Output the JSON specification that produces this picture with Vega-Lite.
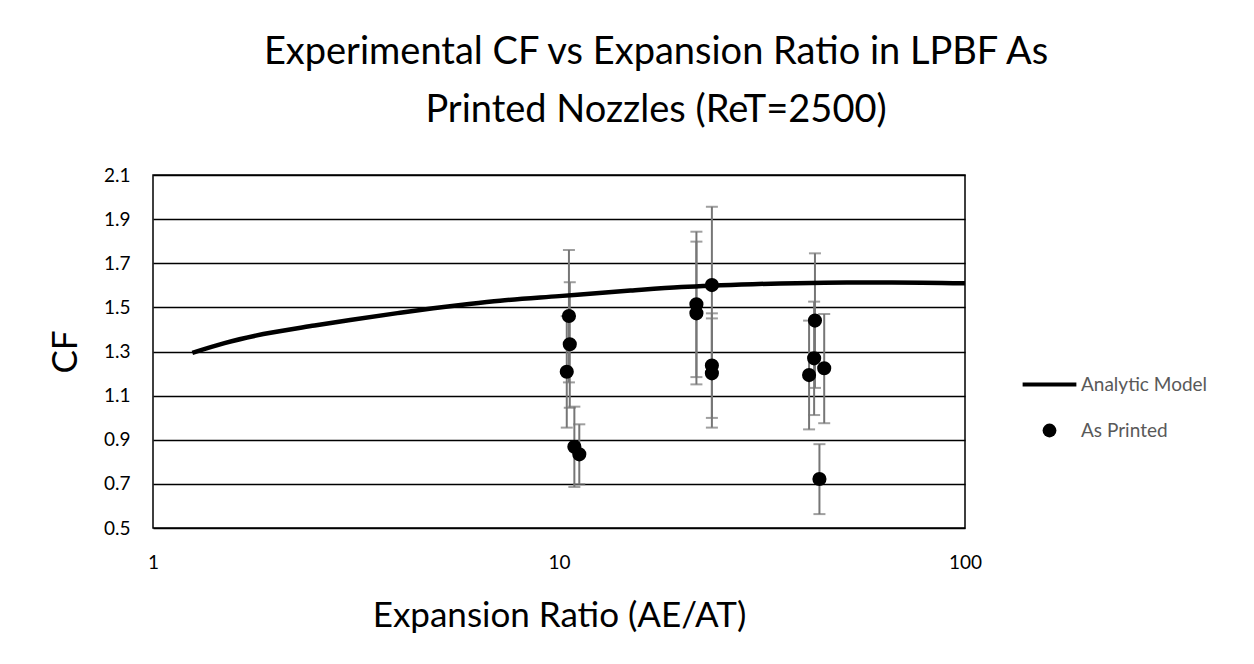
{
  "$schema": "https://vega.github.io/schema/vega-lite/v6.json",
  "width": 812,
  "height": 353,
  "autosize": {"type": "none"},
  "padding": {"left": 153, "top": 175, "right": 289, "bottom": 136},
  "background": "white",
  "config": {
    "font": "Lato",
    "view": {"stroke": "black", "strokeWidth": 1.5}
  },
  "title": {
    "text": ["Experimental CF vs Expansion Ratio in LPBF As", "Printed Nozzles (ReT=2500)"],
    "fontSize": 38,
    "fontWeight": "normal",
    "lineHeight": 58,
    "anchor": "middle",
    "dx": 97,
    "offset": 36,
    "color": "black"
  },
  "datasets": {
    "model": [
      {"er": 1.25, "cf": 1.294},
      {"er": 1.5, "cf": 1.338},
      {"er": 1.87, "cf": 1.379},
      {"er": 2.5, "cf": 1.418},
      {"er": 3.06, "cf": 1.443},
      {"er": 4.0, "cf": 1.474},
      {"er": 4.9, "cf": 1.496},
      {"er": 6.0, "cf": 1.515},
      {"er": 7.16, "cf": 1.530},
      {"er": 10.0, "cf": 1.551},
      {"er": 15.0, "cf": 1.576},
      {"er": 20.0, "cf": 1.592},
      {"er": 30.0, "cf": 1.605},
      {"er": 45.0, "cf": 1.612},
      {"er": 66.0, "cf": 1.613},
      {"er": 100.0, "cf": 1.609}
    ],
    "printed": [
      {"series": "As Printed", "er": 10.58, "cf": 1.461, "lo": 1.160, "hi": 1.760},
      {"series": "As Printed", "er": 10.63, "cf": 1.333, "lo": 1.045, "hi": 1.614},
      {"series": "As Printed", "er": 10.45, "cf": 1.208, "lo": 0.955, "hi": 1.460},
      {"series": "As Printed", "er": 10.91, "cf": 0.868, "lo": 0.686, "hi": 1.050},
      {"series": "As Printed", "er": 11.22, "cf": 0.834, "lo": 0.698, "hi": 0.970},
      {"series": "As Printed", "er": 21.8, "cf": 1.514, "lo": 1.184, "hi": 1.843},
      {"series": "As Printed", "er": 21.8, "cf": 1.473, "lo": 1.151, "hi": 1.798},
      {"series": "As Printed", "er": 23.8, "cf": 1.601, "lo": 1.246, "hi": 1.956},
      {"series": "As Printed", "er": 23.8, "cf": 1.236, "lo": 0.999, "hi": 1.473},
      {"series": "As Printed", "er": 23.8, "cf": 1.201, "lo": 0.955, "hi": 1.450},
      {"series": "As Printed", "er": 42.7, "cf": 1.440, "lo": 1.135, "hi": 1.745},
      {"series": "As Printed", "er": 42.5, "cf": 1.269, "lo": 1.012, "hi": 1.526},
      {"series": "As Printed", "er": 41.3, "cf": 1.193, "lo": 0.947, "hi": 1.440},
      {"series": "As Printed", "er": 45.0, "cf": 1.224, "lo": 0.975, "hi": 1.470},
      {"series": "As Printed", "er": 43.8, "cf": 0.722, "lo": 0.563, "hi": 0.880}
    ]
  },
  "layer": [
    {
      "data": {"name": "printed"},
      "mark": {"type": "rule", "color": "#767676", "strokeWidth": 2},
      "encoding": {
        "x": {"field": "er", "type": "quantitative", "scale": {"type": "log", "domain": [1, 100]},
          "axis": {"title": "Expansion Ratio (AE/AT)", "values": [1, 10, 100], "format": "d", "grid": false, "ticks": false, "domain": false,
            "labelFontSize": 19, "labelColor": "black", "labelPadding": 25, "labelFlush": false,
            "titleFontSize": 35, "titleFontWeight": "normal", "titleColor": "black", "titlePadding": 26}},
        "y": {"field": "lo", "type": "quantitative", "scale": {"domain": [0.5, 2.1], "nice": false, "zero": false},
          "axis": {"title": "CF", "values": [0.5, 0.7, 0.9, 1.1, 1.3, 1.5, 1.7, 1.9, 2.1], "format": ".1f",
            "grid": true, "gridColor": "black", "gridWidth": 1.5, "gridOpacity": 1, "ticks": false, "domain": false,
            "labelFontSize": 19, "labelColor": "black", "labelPadding": 23, "labelFlush": false,
            "titleFontSize": 35, "titleFontWeight": "normal", "titleColor": "black", "titlePadding": 20}},
        "y2": {"field": "hi"}
      }
    },
    {
      "data": {"name": "printed"},
      "mark": {"type": "tick", "orient": "horizontal", "color": "#767676", "thickness": 2, "size": 12},
      "encoding": {
        "x": {"field": "er", "type": "quantitative"},
        "y": {"field": "lo", "type": "quantitative"}
      }
    },
    {
      "data": {"name": "printed"},
      "mark": {"type": "tick", "orient": "horizontal", "color": "#767676", "thickness": 2, "size": 12},
      "encoding": {
        "x": {"field": "er", "type": "quantitative"},
        "y": {"field": "hi", "type": "quantitative"}
      }
    },
    {
      "data": {"name": "model"},
      "mark": {"type": "line", "color": "black", "strokeWidth": 4.5, "interpolate": "monotone"},
      "encoding": {
        "x": {"field": "er", "type": "quantitative"},
        "y": {"field": "cf", "type": "quantitative"}
      }
    },
    {
      "data": {"name": "printed"},
      "mark": {"type": "point", "filled": true, "size": 200, "opacity": 1, "color": "black"},
      "encoding": {
        "x": {"field": "er", "type": "quantitative"},
        "y": {"field": "cf", "type": "quantitative"},
        "shape": {"field": "series", "type": "nominal",
          "scale": {"domain": ["Analytic Model", "As Printed"], "range": ["M-3.9,-0.28H3.9V0.28H-3.9Z", "circle"]},
          "legend": {"title": null, "orient": "none", "legendX": 887, "legendY": 200,
            "labelFontSize": 19, "labelColor": "#595959", "labelOffset": 22, "rowPadding": 26,
            "symbolFillColor": "black", "symbolStrokeColor": "black", "symbolStrokeWidth": 0, "symbolSize": 190, "symbolOpacity": 1}}
      }
    }
  ]
}
